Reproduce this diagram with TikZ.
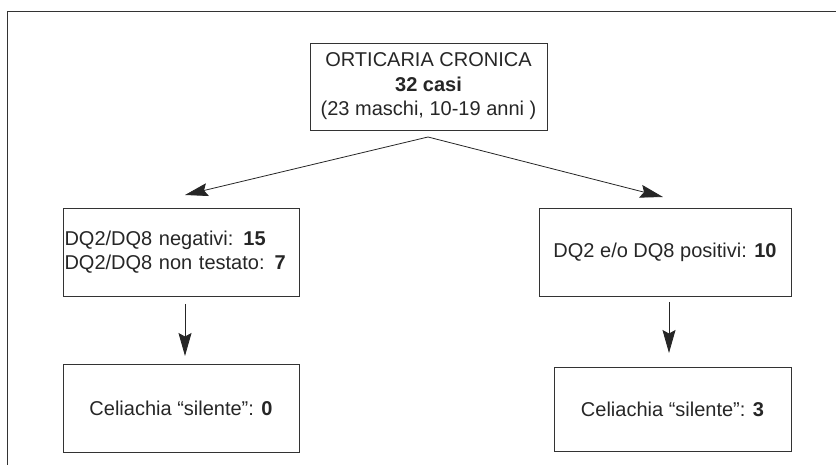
\documentclass[tikz,border=0pt]{standalone}
\usepackage{fontspec}
\setmainfont{Liberation Sans}
\usetikzlibrary{arrows.meta}
\begin{document}
\begin{tikzpicture}[x=1pt,y=-1pt,
  box/.style={draw=black!80,line width=0.8pt,rectangle,inner sep=0pt,font=\fontsize{20}{24.5}\selectfont,text=black!85},
  conn/.style={draw=black!85,line width=0.8pt,-{Stealth[length=23pt,width=13pt,inset=3.5pt]}}]
\useasboundingbox (0,0) rectangle (836,465);
\draw[black!80,line width=0.9pt] (836,11) -- (7,11) -- (7,465);
\node[box,minimum width=237pt,minimum height=87pt,align=center] (top) at (428.5,86.5)
  {ORTICARIA CRONICA\\\textbf{32 casi}\\(23 maschi, 10-19 anni )};
\node[box,minimum width=236pt,minimum height=88pt,text width=233pt,align=left] (lm) at (181,252)
  {DQ2/DQ8 negativi: \textbf{15}\\[-1pt]DQ2/DQ8 non testato: \textbf{7}};
\node[box,minimum width=252pt,minimum height=88pt,align=center] (rm) at (665,252)
  {DQ2 e/o DQ8 positivi: \textbf{10}};
\node[box,minimum width=236pt,minimum height=88pt,align=center] (lb) at (181,408)
  {Celiachia “silente”: \textbf{0}};
\node[box,minimum width=237pt,minimum height=84pt,align=center] (rb) at (672.5,409)
  {Celiachia “silente”: \textbf{3}};
\coordinate (apex) at (428,137);
\coordinate (tipL) at (185,195);
\coordinate (tipR) at (663,197);
\draw[conn] (apex) -- (tipL);
\draw[conn] (apex) -- (tipR);
\coordinate (lsrc) at (185,304);
\coordinate (ltip) at (185,356);
\coordinate (rsrc) at (669,302);
\coordinate (rtip) at (669,353);
\draw[conn] (lsrc) -- (ltip);
\draw[conn] (rsrc) -- (rtip);
\end{tikzpicture}
\end{document}
